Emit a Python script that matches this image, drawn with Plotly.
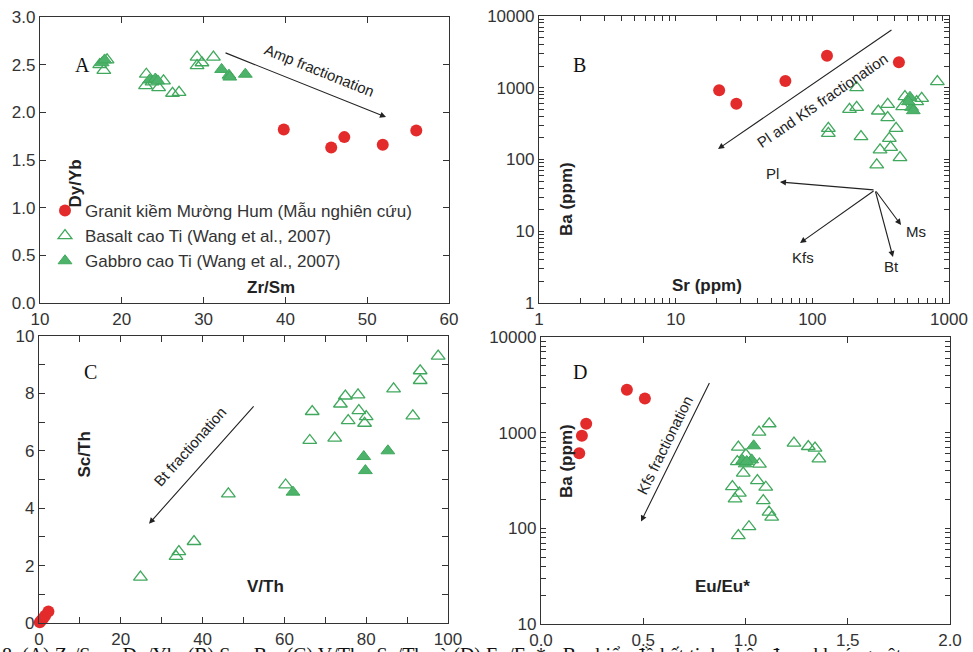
import plotly.graph_objects as go

# ---------------- DATA ----------------
# Panel A: Zr/Sm vs Dy/Yb
a_gran_x = [39.8, 45.6, 47.2, 51.9, 56.0]
a_gran_y = [1.82, 1.63, 1.74, 1.66, 1.81]
a_bas_x = [17.3, 17.8, 18.2, 23.0, 22.9, 23.7, 24.5, 25.1, 26.2, 27.0, 29.2, 29.2, 29.8, 31.2]
a_bas_y = [2.50, 2.44, 2.55, 2.40, 2.28, 2.32, 2.26, 2.33, 2.20, 2.21, 2.58, 2.49, 2.52, 2.58]
a_gab_x = [17.6, 17.9, 23.4, 24.1, 24.4, 32.2, 33.1, 33.2, 35.1]
a_gab_y = [2.52, 2.55, 2.34, 2.35, 2.33, 2.45, 2.39, 2.37, 2.40]

# Panel B: Sr (ppm) vs Ba (ppm)
b_gran_x = [20.8, 27.8, 63.5, 128, 430]
b_gran_y = [920, 600, 1240, 2800, 2260]
b_bas_x = [822, 211, 187, 211, 131, 131, 227, 304, 356, 356, 410, 366, 374, 313, 296, 438, 458, 631, 476, 580]
b_bas_y = [1216, 1002, 501, 534, 272, 232, 208, 474, 588, 383, 272, 197, 148, 136, 84, 106, 547, 713, 751, 640]
b_gab_x = [518, 533, 548, 504]
b_gab_y = [736, 534, 479, 640]

# Panel C: V/Th vs Sc/Th
c_gran_x = [0.2, 0.6, 1.0, 1.5, 2.3]
c_gran_y = [0.03, 0.10, 0.16, 0.25, 0.40]
c_bas_x = [97.6, 93.2, 93.2, 86.7, 91.4, 74.9, 73.7, 78.0, 66.8, 78.2, 75.6, 80.0, 79.6, 66.2, 72.3, 60.3, 46.3, 37.9, 34.2, 33.5, 24.8]
c_bas_y = [9.30, 8.79, 8.45, 8.16, 7.22, 7.91, 7.63, 7.95, 7.37, 7.40, 7.05, 7.19, 6.96, 6.36, 6.44, 4.81, 4.50, 2.84, 2.49, 2.32, 1.60]
c_gab_x = [62.1, 79.4, 79.8, 85.3]
c_gab_y = [4.56, 5.80, 5.31, 6.00]

# Panel D: Eu/Eu* vs Ba (ppm)
d_gran_x = [0.187, 0.200, 0.221, 0.420, 0.508]
d_gran_y = [611, 927, 1240, 2813, 2280]
d_bas_x = [1.116, 1.066, 0.965, 1.237, 1.307, 1.340, 1.359, 0.960, 1.002, 1.068, 0.989, 1.058, 1.099, 0.936, 0.970, 0.949, 1.087, 1.115, 1.128, 1.017, 0.965]
d_bas_y = [1240, 1014, 706, 778, 717, 689, 533, 499, 588, 469, 378, 316, 269, 273, 233, 203, 195, 148, 131, 104, 84]
d_gab_x = [1.040, 0.986, 0.998, 1.030, 1.006]
d_gab_y = [729, 512, 472, 520, 500]

names = ["Granit kiềm Mường Hum (Mẫu nghiên cứu)",
         "Basalt cao Ti (Wang et al., 2007)",
         "Gabbro cao Ti (Wang et al., 2007)"]
x_titles = ["Zr/Sm", "Sr (ppm)", "V/Th", "Eu/Eu*"]
y_titles = ["Dy/Yb", "Ba (ppm)", "Sc/Th", "Ba (ppm)"]
panel_letters = ["A", "B", "C", "D"]
# log-axis ticks: every 1..9 x decade, labelled only at decades
log_tick_vals = [m * d for d in [1, 10, 100, 1000] for m in range(1, 10)] + [10000]
log_tick_text = [str(v) if str(v).strip("0") == "1" else "" for v in log_tick_vals]
# panel C ticks: every 10 on x (labels every 20), every 1 on y (labels every 2)
c_x_vals = list(range(0, 101, 10))
c_x_text = [str(v) if v % 20 == 0 else "" for v in c_x_vals]
c_y_vals = list(range(0, 11))
c_y_text = [str(v) if v % 2 == 0 else "" for v in c_y_vals]
caption = ("8. (A) Zr/Sm - Dy/Yb; (B) Sr - Ba; (C) V/Th - Sc/Th và (D) Eu/Eu* - Ba: "
           "biểu đồ kết tinh phân đoạn khoáng vật")

# ---------------- STYLE ----------------
RED = "#e32b2b"
GREEN = "#3fa85c"
GREEN_FILL = "#4db36a"
FONT = "Liberation Sans, Arial, sans-serif"
TXT = "#222222"
W, H = 973, 652

def px2x(px):
    return px / W

def px2y(py):
    return 1 - py / H

def merge(*ds, **kw):
    out = {}
    for d in ds:
        out.update(d)
    out.update(kw)
    return out

fig = go.Figure()

panels = [
    ("x", "y", a_gran_x, a_gran_y, a_bas_x, a_bas_y, a_gab_x, a_gab_y),
    ("x2", "y2", b_gran_x, b_gran_y, b_bas_x, b_bas_y, b_gab_x, b_gab_y),
    ("x3", "y3", c_gran_x, c_gran_y, c_bas_x, c_bas_y, c_gab_x, c_gab_y),
    ("x4", "y4", d_gran_x, d_gran_y, d_bas_x, d_bas_y, d_gab_x, d_gab_y),
]

for i, (xa, ya, gx, gy, bx, by, fx, fy) in enumerate(panels):
    first = i == 0
    fig.add_trace(go.Scatter(x=bx, y=by, mode="markers", xaxis=xa, yaxis=ya,
                             name=names[1], showlegend=first, legendrank=2,
                             cliponaxis=False,
                             marker=dict(symbol="triangle-up-open", size=12,
                                         color=GREEN, line=dict(width=1.3, color=GREEN))))
    fig.add_trace(go.Scatter(x=fx, y=fy, mode="markers", xaxis=xa, yaxis=ya,
                             name=names[2], showlegend=first, legendrank=3,
                             cliponaxis=False,
                             marker=dict(symbol="triangle-up", size=12,
                                         color=GREEN_FILL, line=dict(width=1, color=GREEN))))
    fig.add_trace(go.Scatter(x=gx, y=gy, mode="markers", xaxis=xa, yaxis=ya,
                             name=names[0], showlegend=first, legendrank=1,
                             cliponaxis=False,
                             marker=dict(symbol="circle", size=12, color=RED,
                                         line=dict(width=0))))

axis_common = dict(showline=True, linecolor="#333333", linewidth=1.3, mirror="allticks",
                   ticks="inside", ticklen=6, tickwidth=1.2, tickcolor="#333333",
                   showgrid=False, zeroline=False, automargin=False,
                   tickfont=dict(family=FONT, size=17, color="#333333"))
log_ticks = dict(tickmode="array", tickvals=log_tick_vals, ticktext=log_tick_text, ticklen=5)

dom = {
    "A": ([px2x(40), px2x(449)], [px2y(303), px2y(17)]),
    "B": ([px2x(539), px2x(949)], [px2y(303), px2y(16)]),
    "C": ([px2x(39), px2x(448)], [px2y(623), px2y(336)]),
    "D": ([px2x(541), px2x(950)], [px2y(624), px2y(337)]),
}

layout = dict(
    width=W, height=H, margin=dict(l=0, r=0, t=0, b=0),
    paper_bgcolor="white", plot_bgcolor="white", template="none",
    font=dict(family=FONT, color=TXT),
    xaxis=merge(axis_common, domain=dom["A"][0], range=[10, 60], dtick=10, anchor="y"),
    yaxis=merge(axis_common, domain=dom["A"][1], range=[0, 3], dtick=0.5, tickformat=".1f", anchor="x"),
    xaxis2=merge(axis_common, log_ticks, domain=dom["B"][0], type="log", range=[0, 3], anchor="y2"),
    yaxis2=merge(axis_common, log_ticks, domain=dom["B"][1], type="log", range=[0, 4], anchor="x2"),
    xaxis3=merge(axis_common, domain=dom["C"][0], range=[0, 100], tickmode="array",
                 tickvals=c_x_vals, ticktext=c_x_text, anchor="y3"),
    yaxis3=merge(axis_common, domain=dom["C"][1], range=[0, 10], tickmode="array",
                 tickvals=c_y_vals, ticktext=c_y_text, anchor="x3"),
    xaxis4=merge(axis_common, domain=dom["D"][0], range=[0, 2], dtick=0.5, tickformat=".1f", anchor="y4"),
    yaxis4=merge(axis_common, log_ticks, domain=dom["D"][1], type="log", range=[1, 4], anchor="x4"),
    legend=dict(x=px2x(45), y=px2y(193), xanchor="left", yanchor="top",
                bgcolor="rgba(0,0,0,0)", borderwidth=0,
                font=dict(family=FONT, size=17, color="#333333"),
                traceorder="normal", tracegroupgap=0),
    showlegend=True,
)
fig.update_layout(**layout)

ann = []
title_pos = {
    "x": [(245, 287), (744, 285), (245, 598), (752, 598)],
    "y": [(64, 158), (566, 160), (72, 480), (566, 500)],
}
for k in range(4):
    xpx, ypx = title_pos["x"][k]
    ann.append(dict(text="<b>%s</b>" % x_titles[k], x=px2x(xpx), y=px2y(ypx), xref="paper", yref="paper",
                    showarrow=False, font=dict(family=FONT, size=17, color=TXT)))
    xpx, ypx = title_pos["y"][k]
    ann.append(dict(text="<b>%s</b>" % y_titles[k], x=px2x(xpx), y=px2y(ypx), xref="paper", yref="paper",
                    showarrow=False, textangle=-90, font=dict(family=FONT, size=17, color=TXT)))
letter_pos = [(73, 52), (579, 52), (82, 372), (580, 372)]
for k in range(4):
    ann.append(dict(text=panel_letters[k], x=px2x(letter_pos[k][0]), y=px2y(letter_pos[k][1]),
                    xref="paper", yref="paper", showarrow=False,
                    font=dict(family="Liberation Serif, Times New Roman, serif", size=20, color="#111111")))

arrow_style = dict(showarrow=True, arrowhead=2, arrowsize=1.1, arrowwidth=1.1, arrowcolor="#222222", text="")

# Panel A arrow
ann.append(merge(arrow_style, x=52.3, y=1.95, ax=32.5, ay=2.63, xref="x", yref="y", axref="x", ayref="y"))
ann.append(dict(text="Amp fractionation", x=44.2, y=2.44, xref="x", yref="y", showarrow=False,
                textangle=21.9, font=dict(family=FONT, size=15, color=TXT)))

# Panel B big arrow (log axes: positions in log10 units)
ann.append(merge(arrow_style, x=1.310, y=2.146, ax=2.590, ay=3.819, xref="x2", yref="y2", axref="x2", ayref="y2"))
ann.append(dict(text="Pl and Kfs fractionation", x=2.071, y=2.829, xref="x2", yref="y2", showarrow=False,
                textangle=-34.4, font=dict(family=FONT, size=15, color=TXT)))
ox, oy = 2.459, 1.575
for tx, ty in [(1.763, 1.686), (1.910, 0.836), (2.590, 0.641), (2.649, 1.087)]:
    ann.append(merge(arrow_style, x=tx, y=ty, ax=ox, ay=oy, xref="x2", yref="y2", axref="x2", ayref="y2"))
for lbl, lx, ly in [("Pl", 1.705, 1.798), ("Kfs", 1.932, 0.641), ("Bt", 2.576, 0.502), ("Ms", 2.759, 0.990)]:
    ann.append(dict(text=lbl, x=lx, y=ly, xref="x2", yref="y2", showarrow=False,
                    font=dict(family=FONT, size=15, color=TXT)))

# Panel C arrow
ann.append(merge(arrow_style, x=26.9, y=3.46, ax=52.8, ay=7.60, xref="x3", yref="y3", axref="x3", ayref="y3"))
ann.append(dict(text="Bt fractionation", x=36.9, y=6.15, xref="x3", yref="y3", showarrow=False,
                textangle=-48.3, font=dict(family=FONT, size=15, color=TXT)))

# Panel D arrow
ann.append(merge(arrow_style, x=0.489, y=2.071, ax=0.827, ay=3.536, xref="x4", yref="y4", axref="x4", ayref="y4"))
ann.append(dict(text="Kfs fractionation", x=0.607, y=2.873, xref="x4", yref="y4", showarrow=False,
                textangle=-63.8, font=dict(family=FONT, size=15, color=TXT)))

# Caption (top part only visible, as in the reference page crop)
ann.append(dict(text=caption, x=0, y=px2y(642), xref="paper", yref="paper", xanchor="left", yanchor="top",
                showarrow=False, font=dict(family="Liberation Serif, Times New Roman, serif", size=20, color="#111111")))

fig.update_layout(annotations=ann)
fig.write_html("out.html")
